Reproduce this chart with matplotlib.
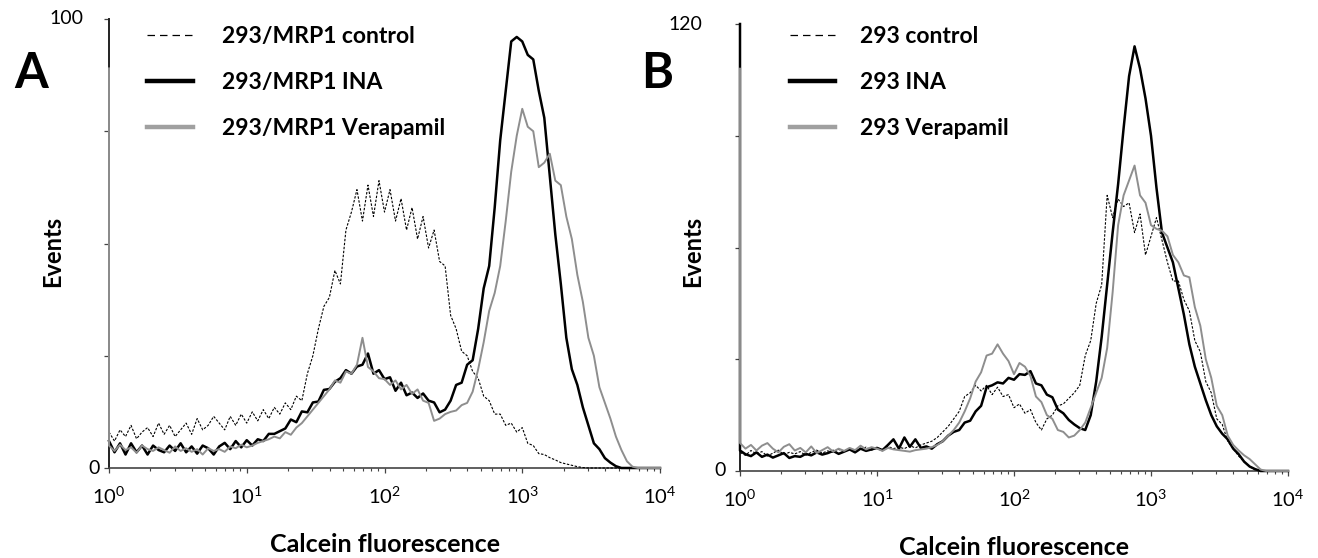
import numpy as np
import matplotlib
matplotlib.use('Agg')
import matplotlib.pyplot as plt
from matplotlib.lines import Line2D
from matplotlib.ticker import FixedLocator, NullFormatter, FixedFormatter
import matplotlib.transforms as mtransforms

plt.rcParams['font.family'] = ['Lato', 'DejaVu Sans']
plt.rcParams['mathtext.fontset'] = 'custom'
plt.rcParams['mathtext.rm'] = 'Lato'
plt.rcParams['mathtext.it'] = 'Lato:italic'
plt.rcParams['mathtext.bf'] = 'Lato:bold'

W, H, DPI = 1318, 558, 100

# ---------------- data ----------------
# shared channel grid: log10(calcein fluorescence), 0 .. 4 in steps of 0.04
log_channels = np.round(np.arange(0, 4.0001, 0.04), 2)

x_ticks = [1, 10, 100, 1000, 10000]
x_tick_labels = ['$10^{0}$', '$10^{1}$', '$10^{2}$', '$10^{3}$', '$10^{4}$']

# Panel A: 293/MRP1
a_labels = ['293/MRP1 control', '293/MRP1 INA', '293/MRP1 Verapamil']
a_first_channel = [8.0, 6.0, 89.0]   # value in the very first channel (x = 1)
a_control = [
    8.0, 6.0, 8.5, 7.0, 9.5, 6.5, 8.0, 9.0, 7.0, 10.0,
    7.5, 9.5, 7.0, 8.5, 10.0, 7.5, 11.0, 8.5, 9.5, 11.5,
    10.0, 8.5, 11.5, 9.5, 12.0, 10.0, 12.5, 10.5, 13.0, 11.0,
    13.5, 12.0, 14.5, 13.0, 16.0, 15.0, 21.0, 25.0, 31.0, 36.0,
    38.0, 44.0, 41.0, 53.0, 57.0, 62.0, 55.0, 63.0, 56.0, 64.0,
    57.0, 62.0, 55.0, 60.0, 53.0, 58.0, 51.0, 56.0, 49.0, 53.0,
    46.0, 45.0, 34.0, 31.0, 26.0, 25.0, 21.5, 20.0, 16.0, 15.0,
    12.0, 12.0, 9.5, 10.0, 8.0, 9.0, 5.5, 5.0, 3.2, 3.0,
    2.3, 1.8, 1.2, 0.9, 0.6, 0.3, 0.1, 0.0, 0.0, 0.0,
    0.0, 0.0, 0.0, 0.0, 0.0, 0.0, 0.0, 0.0, 0.0, 0.0,
    0.0]
a_ina = [
    6.0, 3.5, 5.5, 3.0, 5.5, 3.5, 5.0, 3.0, 5.0, 4.0,
    3.5, 5.0, 3.8, 5.5, 3.5, 4.8, 3.2, 5.0, 4.4, 3.0,
    4.8, 5.6, 4.2, 6.0, 4.6, 6.2, 5.0, 6.4, 6.0, 7.6,
    7.6, 8.2, 8.8, 10.8, 10.2, 12.6, 12.4, 14.6, 14.8, 17.4,
    17.6, 19.2, 20.0, 21.8, 21.0, 22.6, 23.0, 25.5, 21.0, 21.8,
    19.8, 20.2, 17.2, 19.0, 16.2, 16.8, 15.6, 16.6, 15.0, 14.6,
    12.4, 13.0, 15.0, 18.5, 19.0, 23.0, 24.0, 31.0, 40.0, 45.0,
    58.0, 73.0, 84.0, 95.0, 96.0, 95.0, 92.0, 91.0, 84.0, 78.0,
    65.0, 52.0, 41.0, 29.0, 22.0, 18.5, 13.5, 9.5, 5.5, 4.2,
    2.2, 1.2, 0.4, 0.0, 0.0, 0.0, 0.0, 0.0, 0.0, 0.0,
    0.0]
a_verapamil = [
    5.0, 3.8, 5.2, 4.0, 4.6, 3.4, 5.0, 4.2, 3.8, 4.6,
    4.0, 3.4, 4.8, 3.8, 4.4, 3.6, 4.2, 3.0, 4.4, 3.8,
    4.2, 3.6, 4.8, 4.4, 5.2, 4.6, 5.0, 5.6, 6.0, 6.4,
    7.0, 6.6, 8.0, 7.4, 9.0, 10.0, 11.5, 13.0, 14.5, 16.0,
    17.5, 19.5, 19.0, 21.5, 21.0, 23.0, 29.0, 22.5, 21.5, 20.0,
    19.8, 18.5, 19.5, 17.5, 18.5, 16.5, 17.5, 15.0, 14.5, 10.5,
    11.0, 12.0, 12.5, 12.8, 14.0, 14.5, 17.0, 22.0, 28.0, 35.0,
    39.0, 45.0, 55.0, 66.0, 74.0, 80.0, 76.0, 75.0, 67.0, 68.0,
    70.0, 64.0, 63.0, 56.0, 51.0, 43.0, 37.0, 29.0, 25.0, 18.0,
    14.5, 11.0, 7.0, 4.0, 1.5, 0.3, 0.0, 0.0, 0.0, 0.0,
    0.0]

# Panel B: 293
b_labels = ['293 control', '293 INA', '293 Verapamil']
b_first_channel = [6.0, 120.0, 108.0]
b_control = [
    5.0, 4.2, 5.5, 4.6, 5.2, 4.0, 4.8, 5.6, 4.4, 5.0,
    4.6, 5.2, 4.2, 5.0, 5.6, 4.8, 5.4, 5.0, 5.8, 5.2,
    6.0, 5.4, 5.8, 6.4, 5.6, 6.2, 5.8, 6.6, 6.0, 6.4,
    6.0, 6.8, 6.2, 7.0, 7.5, 8.0, 9.0, 10.5, 12.0, 14.0,
    16.0, 20.0, 21.0, 23.0, 21.5, 23.0, 20.5, 22.5, 20.0, 20.5,
    17.0, 18.0, 15.5, 16.5, 13.0, 11.0, 14.0, 15.0, 17.5, 18.0,
    19.5, 21.0, 23.0, 31.0, 35.0, 45.0, 50.0, 74.0, 68.0, 73.0,
    71.0, 72.0, 64.0, 69.0, 58.0, 63.0, 68.0, 62.0, 56.0, 51.0,
    51.0, 46.0, 43.0, 35.0, 32.0, 24.0, 21.0, 14.0, 12.5, 8.0,
    6.0, 4.0, 2.5, 1.2, 0.3, 0.0, 0.0, 0.0, 0.0, 0.0,
    0.0]
b_ina = [
    5.5, 4.5, 4.0, 5.0, 3.8, 4.4, 3.6, 4.2, 4.8, 3.5,
    4.0, 3.8, 4.6, 4.2, 5.0, 4.4, 4.8, 5.4, 4.6, 5.2,
    5.8, 5.0, 6.0, 5.4, 5.8, 6.2, 5.6, 7.0, 8.5, 6.0,
    9.0, 6.5, 8.5, 6.2, 6.6, 6.0, 7.2, 8.0, 9.5, 10.5,
    11.0, 13.0, 13.5, 16.0, 17.5, 22.5, 23.0, 23.8, 23.5, 25.0,
    24.5, 26.0, 25.8, 26.8, 23.5, 23.0, 20.5, 19.8, 16.5, 15.5,
    13.7, 12.5, 11.5, 11.0, 15.0, 24.0, 36.0, 50.0, 64.0, 77.0,
    92.0, 106.0, 114.0, 108.0, 100.0, 90.0, 76.0, 64.0, 60.0, 56.0,
    49.0, 42.0, 34.0, 28.0, 23.5, 19.0, 15.0, 12.0, 10.0, 8.5,
    6.0, 4.5, 2.5, 1.2, 0.5, 0.0, 0.0, 0.0, 0.0, 0.0,
    0.0]
b_verapamil = [
    7.5, 6.0, 7.0, 5.5, 6.8, 7.5, 6.0, 5.0, 6.5, 7.2,
    5.5, 6.2, 5.0, 6.6, 4.8, 5.6, 6.4, 5.2, 6.0, 5.4,
    6.2, 5.6, 6.8, 5.8, 6.4, 6.0, 5.4, 6.2, 5.8, 5.6,
    5.4, 5.2, 5.6, 5.8, 6.0, 6.4, 7.0, 8.0, 9.5, 11.0,
    13.0, 16.0, 19.5, 24.0, 26.5, 31.0, 31.5, 34.0, 31.5, 29.5,
    26.0, 29.0, 28.0, 25.5, 20.0, 18.5, 15.0, 14.0, 11.0, 10.5,
    9.0, 9.5, 11.0, 13.0, 17.0, 21.0, 25.0, 33.0, 48.0, 66.0,
    74.0, 78.0, 82.0, 74.0, 72.0, 66.0, 65.0, 64.5, 63.0, 58.0,
    56.0, 52.5, 52.0, 44.0, 39.0, 30.0, 25.0, 17.5, 15.0, 9.5,
    7.0, 5.5, 4.2, 3.2, 1.8, 0.4, 0.0, 0.0, 0.0, 0.0,
    0.0]

# ---------------- styles ----------------
styles = [
    dict(color='black', lw=0.8, ls=(0, (2.2, 1.4))),
    dict(color='black', lw=1.8, ls='-'),
    dict(color='#8e8e8e', lw=1.4, ls='-'),
]
legend_styles = [
    dict(color='black', lw=0.9, ls=(0, (6.0, 4.0))),
    dict(color='black', lw=3.2, ls='-'),
    dict(color='#a0a0a0', lw=3.2, ls='-'),
]

fig = plt.figure(figsize=(W / DPI, H / DPI), dpi=DPI)
fig.patch.set_facecolor('white')


def px_axes(left, right, top, bottom):
    return fig.add_axes([left / W, 1 - bottom / H, (right - left) / W, (bottom - top) / H])


def draw_panel(ax, series, first, labels, ymax, yticks, ylab_top, pad_top, pad_zero,
               leg_x, leg_top, hlen, hpad, panel_letter, letter_xy, events_x):
    xs = np.r_[1.0, 10.0 ** log_channels]
    for vals, f, st in zip(series, first, styles):
        ys = np.r_[f, vals]
        ax.plot(xs, ys, clip_on=False, zorder=3, **st)
    ax.set_xscale('log')
    ax.set_xlim(1, 10000)
    ax.set_ylim(0, ymax)
    for s in ['top', 'right']:
        ax.spines[s].set_visible(False)
    ax.spines['left'].set_linewidth(1.4)
    ax.spines['left'].set_color('#222222')
    ax.spines['bottom'].set_linewidth(1.2)
    ax.spines['bottom'].set_color('#444444')
    ax.xaxis.set_major_locator(FixedLocator(x_ticks))
    ax.xaxis.set_major_formatter(FixedFormatter(x_tick_labels))
    minors = [m * 10 ** d for d in range(4) for m in range(2, 10)]
    ax.xaxis.set_minor_locator(FixedLocator(minors))
    ax.xaxis.set_minor_formatter(NullFormatter())
    ax.tick_params(axis='x', which='major', length=3.5, width=0.9, color='#444444',
                   labelsize=14.5, pad=9)
    ax.tick_params(axis='x', which='minor', length=2.5, width=0.8, color='#444444')
    ax.yaxis.set_major_locator(FixedLocator(yticks))
    ax.yaxis.set_major_formatter(NullFormatter())
    ax.tick_params(axis='y', which='major', length=3.5, width=0.9, color='#444444')
    trans = mtransforms.blended_transform_factory(ax.transAxes, ax.transData)
    ax.annotate(ylab_top, xy=(0, ymax), xycoords=trans, xytext=(-pad_top, 0),
                textcoords='offset pixels', ha='right', va='center', fontsize=14)
    ax.annotate('0', xy=(0, 0), xycoords=trans, xytext=(-pad_zero, 0),
                textcoords='offset pixels', ha='right', va='center', fontsize=14)
    ax.set_xlabel('Calcein fluorescence', fontsize=18, fontweight='bold', labelpad=19)
    fig.text(events_x / W, 1 - 251 / H, 'Events', rotation=90, ha='center', va='center',
             fontsize=17, fontweight='bold')
    fig.text(letter_xy[0] / W, 1 - letter_xy[1] / H, panel_letter, ha='center', va='center',
             fontsize=35, fontweight='bold')
    handles = [Line2D([], [], **st) for st in legend_styles]
    fs = 16.5
    fpx = fs * DPI / 72
    ax.legend(handles, labels, loc='upper left', bbox_to_anchor=(leg_x / W, 1 - leg_top / H),
              bbox_transform=fig.transFigure, frameon=False, borderpad=0, borderaxespad=0,
              handlelength=hlen / fpx, handletextpad=hpad / fpx, labelspacing=1.1,
              prop=dict(size=fs, weight='bold'))


ax_a = px_axes(109, 660, 19, 468)
draw_panel(ax_a, [a_control, a_ina, a_verapamil], a_first_channel, a_labels, 100,
           [0, 25, 50, 75, 100], '100', 26, 9, 147, 26, 46, 29, 'A', (31, 73), 53)

ax_b = px_axes(740, 1288, 24, 471)
draw_panel(ax_b, [b_control, b_ina, b_verapamil], b_first_channel, b_labels, 120,
           [0, 30, 60, 90, 120], '120', 38, 14, 790, 26, 45, 25, 'B', (657, 73), 693)

fig.savefig('out.png', dpi=DPI, facecolor='white')
